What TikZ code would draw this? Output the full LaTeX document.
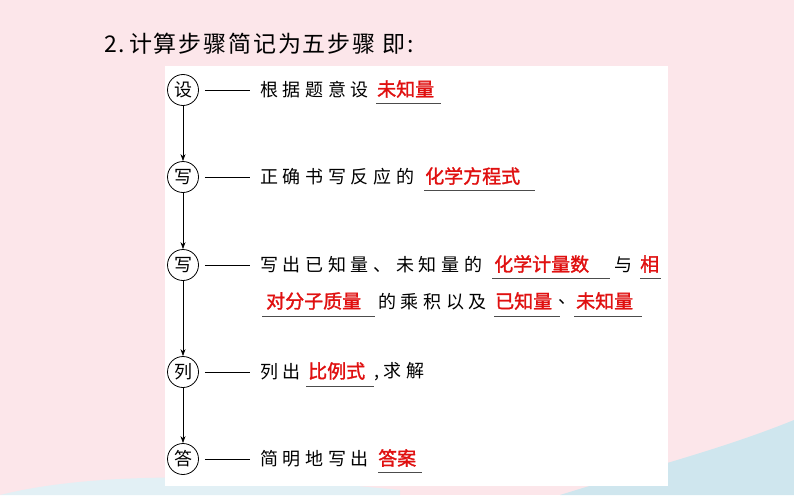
\documentclass[tikz,border=0pt]{standalone}
\usepackage{fontspec}
\newfontfamily\cjk[LetterSpace=26]{Noto Sans CJK SC}
\newfontfamily\cjkt[LetterSpace=8]{Noto Sans CJK SC}
\newfontfamily\cjkc{Noto Sans CJK SC}
\newfontfamily\cjkb[FakeBold=1.5]{Noto Sans CJK SC}
\usetikzlibrary{arrows.meta}
\definecolor{bgpink}{HTML}{FCE6EA}
\definecolor{redt}{HTML}{E01010}
\definecolor{wave}{HTML}{CFE6EE}
\begin{document}
\begin{tikzpicture}[x=1pt,y=-1pt,
  stepc/.style={circle,draw,thick,minimum size=31pt,inner sep=0pt,font=\cjkc\fontsize{18}{18}\selectfont},
  txt/.style={anchor=west,inner sep=0pt,font=\cjk\fontsize{18}{18}\selectfont},
  red/.style={anchor=west,inner sep=0pt,text=redt,font=\cjkb\fontsize{19}{19}\selectfont},
  ul/.style={draw=black!70,line width=1pt},
  dsh/.style={line width=0.6pt},
  arr/.style={-{Stealth[length=7pt,width=5pt]},line width=0.7pt}]
\useasboundingbox (0,0) rectangle (794,495);
\fill[bgpink] (0,0) rectangle (794,495);
\fill[wave] (560,495) .. controls (640,470) and (720,450) .. (794,420) -- (794,495) -- cycle;
\fill[wave!60] (0,495) .. controls (100,470) and (250,475) .. (400,490) -- (400,495) -- cycle;
\fill[white] (165,66) rectangle (668,486);
\node[anchor=west,inner sep=0pt,font=\cjkt\fontsize{23}{23}\selectfont] (title) at (104,44) {2.\,计算步骤简记为五步骤 即:};
\foreach \n/\c/\y in {a/设/90,b/写/177,c/写/265,d/列/372,e/答/459}{
  \node[stepc] (\n) at (183,\y) {\c};
  \coordinate (\n d) at (250,\y);
  \draw[dsh] (\n.east) ++(6,0) -- (\n d);
}
\draw[arr] (a) -- (b);
\draw[arr] (b) -- (c);
\draw[arr] (c) -- (d);
\draw[arr] (d) -- (e);
% row 1
\node[txt] (t1) at (260,90) {根据题意设};
\node[red] (r1) at (377,89) {未知量};
\draw[ul] (376,103) -- (441,103);
% row 2
\node[txt] (t2) at (260,177) {正确书写反应的};
\node[red] (r2) at (425,176) {化学方程式};
\draw[ul] (424,190) -- (535,190);
% row 3
\node[txt] (t3) at (260,265) {写出已知量、未知量的};
\node[red] (r3) at (494,264) {化学计量数};
\draw[ul] (492,278) -- (610,278);
\node[txt] (t3b) at (614,265) {与};
\node[red] (r3b) at (640,264) {相};
\draw[ul] (640,278) -- (661,278);
\node[red] (r4) at (266,301) {对分子质量};
\draw[ul] (262,316) -- (375,316);
\node[txt] (t4) at (378,302) {的乘积以及};
\node[red] (r5) at (495,301) {已知量};
\draw[ul] (494,316) -- (560,316);
\node[anchor=west,inner sep=0pt,font=\cjkc\fontsize{18}{18}\selectfont] (t5) at (558,302) {、};
\node[red] (r6) at (576,301) {未知量};
\draw[ul] (574,316) -- (642,316);
% row 4
\node[txt] (t6) at (260,372) {列出};
\node[red] (r7) at (308,371) {比例式};
\draw[ul] (306,386) -- (374,386);
\node[txt] (t7) at (374,372) {,求解};
% row 5
\node[txt] (t8) at (260,459) {简明地写出};
\node[red] (r8) at (378,458) {答案};
\draw[ul] (378,472) -- (422,472);
\end{tikzpicture}
\end{document}
